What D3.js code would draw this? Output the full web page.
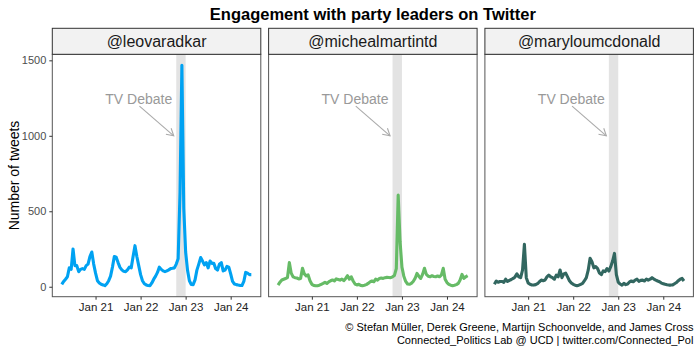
<!DOCTYPE html>
<html>
<head>
<meta charset="utf-8">
<script src="https://cdn.jsdelivr.net/npm/d3@7"></script>
<style>
  html, body { margin: 0; padding: 0; background: #fff; }
  svg { display: block; font-family: "Liberation Sans", Arial, Helvetica, sans-serif; }
</style>
</head>
<body>
<svg id="chart" width="700" height="350"></svg>
<script>
// ---------------- DATA ----------------
const title = "Engagement with party leaders on Twitter";
const yTitle = "Number of tweets";
const captionLines = [
  "\u00A9 Stefan M\u00FCller, Derek Greene, Martijn Schoonvelde, and James Cross",
  "Connected_Politics Lab @ UCD | twitter.com/Connected_Pol"
];
const handles = ["@leovaradkar", "@michealmartintd", "@maryloumcdonald"];
const colors = ["#00A2F2", "#66BB66", "#326760"];

// hourly counts starting 2020-01-20 06:00 (UTC)
const startTime = "2020-01-20T06:00:00Z";
const leoCounts = [16,35,50,66,125,115,250,140,140,100,115,120,115,140,150,200,230,150,90,40,
  25,16,12,7,20,40,70,130,200,195,160,128,112,102,100,112,130,125,200,272,
  200,140,80,40,20,12,8,7,25,50,70,95,130,115,105,100,105,112,120,122,
  125,150,185,620,1467,520,230,110,40,15,14,45,110,150,193,170,145,160,125,170,
  155,155,120,110,150,160,105,110,135,130,85,35,18,14,11,9,8,35,95,90,80,80];
const micheal = [11,30,45,50,55,60,160,90,65,60,58,52,55,122,85,72,78,40,16,9,
  7,7,10,16,22,29,22,32,40,45,38,52,48,44,51,40,55,73,50,66,
  38,18,12,16,9,7,10,14,22,32,38,33,51,44,55,58,55,60,62,61,
  60,66,75,120,607,300,130,70,35,18,16,22,35,55,88,70,55,82,122,82,
  70,66,73,68,66,71,66,77,122,50,28,16,10,7,10,14,22,44,82,55,66,73];
const marylou = [16,38,30,35,35,29,50,35,42,48,55,65,85,66,60,110,281,60,25,16,
  12,11,14,20,33,44,40,45,65,77,66,60,50,77,66,111,60,85,90,65,
  40,25,16,10,7,10,16,22,40,60,110,188,166,125,133,120,90,80,105,100,
  120,104,133,170,221,80,30,18,11,22,14,18,32,38,33,44,50,36,42,44,
  38,51,44,50,60,51,44,38,33,24,20,16,13,11,11,12,20,28,40,50,55,38];
const seriesValues = [leoCounts, micheal, marylou];

const xTickDates = ["2020-01-21", "2020-01-22", "2020-01-23", "2020-01-24"];
const yTickValues = [0, 500, 1000, 1500];

// TV debate window and annotation
const debateStart = "2020-01-22T19:00:00Z";
const debateEnd = "2020-01-23T00:00:00Z";
const annotText = "TV Debate";
const annotTextTime = "2020-01-21T23:00:00Z";
const annotTextValue = 1242;
const arrowFromTime = "2020-01-21T23:24:00Z";
const arrowFromValue = 1197;
const arrowToTime = "2020-01-22T17:40:00Z";
const arrowToValue = 1000;

// ---------------- LAYOUT ----------------
const svg = d3.select("#chart");
const panelLeft0 = 52.3, panelW = 208.5, panelGap = 7.8;
const stripTop = 28.3, stripH = 26;
const panelTop = stripTop + stripH, panelBottom = 296.7;

const t0 = new Date(startTime).getTime();
const hour = 3600 * 1000;
const datasets = seriesValues.map(vals => vals.map((v, i) => ({ date: new Date(t0 + i * hour), value: v })));

// x scale with 5% expansion (ggplot default)
const allDates = datasets[0].map(d => d.date);
const [dMin, dMax] = d3.extent(allDates);
const dPad = (dMax - dMin) * 0.05;
const xDomain = [new Date(dMin.getTime() - dPad), new Date(dMax.getTime() + dPad)];

const allVals = seriesValues.flat();
const [vMin, vMax] = d3.extent(allVals);
const vPad = (vMax - vMin) * 0.05;
const y = d3.scaleLinear().domain([vMin - vPad, vMax + vPad]).range([panelBottom, panelTop]);

// Title
svg.append("text")
  .attr("x", panelLeft0 + (3 * panelW + 2 * panelGap) / 2)
  .attr("y", 20)
  .attr("text-anchor", "middle")
  .attr("font-size", 16.5)
  .attr("font-weight", "bold")
  .attr("fill", "#000")
  .text(title);

// Y axis title
svg.append("text")
  .attr("transform", `translate(14,${(panelTop + panelBottom) / 2}) rotate(-90)`)
  .attr("text-anchor", "middle")
  .attr("dy", "0.36em")
  .attr("font-size", 14)
  .attr("fill", "#000")
  .text(yTitle);

datasets.forEach((data, i) => {
  const left = panelLeft0 + i * (panelW + panelGap);
  const x = d3.scaleUtc().domain(xDomain).range([left, left + panelW]);
  const g = svg.append("g");

  // debate band
  g.append("rect")
    .attr("x", x(new Date(debateStart)))
    .attr("y", panelTop)
    .attr("width", x(new Date(debateEnd)) - x(new Date(debateStart)))
    .attr("height", panelBottom - panelTop)
    .attr("fill", "#E3E3E3");

  // line
  const line = d3.line().x(d => x(d.date)).y(d => y(d.value)).curve(d3.curveLinear);
  g.append("path")
    .datum(data)
    .attr("d", line)
    .attr("fill", "none")
    .attr("stroke", colors[i])
    .attr("stroke-width", 3.1)
    .attr("stroke-linejoin", "round")
    .attr("stroke-linecap", "butt");

  // annotation text
  g.append("text")
    .attr("x", x(new Date(annotTextTime)))
    .attr("y", y(annotTextValue))
    .attr("dy", "0.36em")
    .attr("text-anchor", "middle")
    .attr("font-size", 14)
    .attr("fill", "#999999")
    .text(annotText);

  // arrow
  const ax1 = x(new Date(arrowFromTime)), ay1 = y(arrowFromValue);
  const ax2 = x(new Date(arrowToTime)), ay2 = y(arrowToValue);
  g.append("line")
    .attr("x1", ax1).attr("y1", ay1).attr("x2", ax2).attr("y2", ay2)
    .attr("stroke", "#AAAAAA").attr("stroke-width", 1.1);
  const ang = Math.atan2(ay2 - ay1, ax2 - ax1);
  const hl = 8, ha = Math.PI / 6;
  g.append("path")
    .attr("d", `M${ax2 - hl * Math.cos(ang - ha)},${ay2 - hl * Math.sin(ang - ha)} L${ax2},${ay2} L${ax2 - hl * Math.cos(ang + ha)},${ay2 - hl * Math.sin(ang + ha)}`)
    .attr("fill", "none")
    .attr("stroke", "#AAAAAA").attr("stroke-width", 1.1);

  // panel border
  g.append("rect")
    .attr("x", left).attr("y", panelTop)
    .attr("width", panelW).attr("height", panelBottom - panelTop)
    .attr("fill", "none").attr("stroke", "#555").attr("stroke-width", 1);

  // strip
  g.append("rect")
    .attr("x", left).attr("y", stripTop)
    .attr("width", panelW).attr("height", stripH)
    .attr("fill", "#F2F2F2").attr("stroke", "#333").attr("stroke-width", 1);
  g.append("text")
    .attr("x", left + panelW / 2)
    .attr("y", stripTop + stripH / 2)
    .attr("dy", "0.36em")
    .attr("text-anchor", "middle")
    .attr("font-size", 16)
    .attr("fill", "#1A1A1A")
    .text(handles[i]);

  // x axis
  const xAxis = d3.axisBottom(x)
    .tickValues(xTickDates.map(s => new Date(s + "T00:00:00Z")))
    .tickFormat(d3.utcFormat("%b %d"))
    .tickSize(3).tickPadding(3);
  const xg = svg.append("g").attr("transform", `translate(0,${panelBottom})`).call(xAxis);
  xg.select(".domain").remove();
  xg.selectAll(".tick line").attr("stroke", "#333");
  xg.selectAll(".tick text").attr("font-size", 11.5).attr("fill", "#222")
    .attr("font-family", "Liberation Sans, Arial, sans-serif");

  if (i === 0) {
    const yAxis = d3.axisLeft(y).tickValues(yTickValues).tickFormat(d3.format("d"))
      .tickSize(3).tickPadding(3);
    const yg = svg.append("g").attr("transform", `translate(${left},0)`).call(yAxis);
    yg.select(".domain").remove();
    yg.selectAll(".tick line").attr("stroke", "#333");
    yg.selectAll(".tick text").attr("font-size", 11).attr("fill", "#4D4D4D")
      .attr("font-family", "Liberation Sans, Arial, sans-serif");
  }
});

// caption
captionLines.forEach((txt, k) => {
  svg.append("text")
    .attr("x", panelLeft0 + 3 * panelW + 2 * panelGap)
    .attr("y", 331 + k * 13)
    .attr("text-anchor", "end")
    .attr("font-size", 11)
    .attr("fill", "#000")
    .text(txt);
});
</script>
</body>
</html>
